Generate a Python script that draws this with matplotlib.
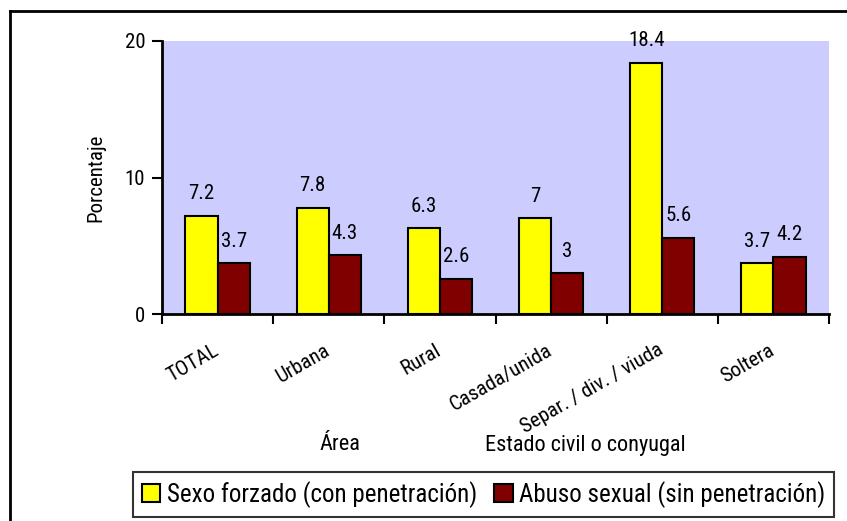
import matplotlib
matplotlib.use("Agg")
import matplotlib.pyplot as plt
from matplotlib.patches import Patch
from matplotlib.lines import Line2D
from matplotlib.transforms import ScaledTranslation
import numpy as np

categories = ["TOTAL", "Urbana", "Rural", "Casada/unida", "Separ. / div. / viuda", "Soltera"]
sexo_forzado = [7.2, 7.8, 6.3, 7.0, 18.4, 3.7]
abuso_sexual = [3.7, 4.3, 2.6, 3.0, 5.6, 4.2]
value_labels_1 = ["7.2", "7.8", "6.3", "7", "18.4", "3.7"]
value_labels_2 = ["3.7", "4.3", "2.6", "3", "5.6", "4.2"]
series_names = ["Sexo forzado (con penetración)", "Abuso sexual (sin penetración)"]
yticks = [0, 10, 20]

FONT = ["Roboto Condensed", "Liberation Sans Narrow", "DejaVu Sans"]
plt.rcParams["font.family"] = FONT

W, H = 847, 521
fig = plt.figure(figsize=(W / 100, H / 100), dpi=100)
ax = fig.add_axes([162 / W, 1 - 314 / H, (829 - 162) / W, (314 - 41) / H])
ax.set_facecolor("#CCCCFF")

x = np.arange(len(categories))
bw = 0.29
b1 = ax.bar(x - bw / 2, sexo_forzado, bw, color="#FFFF00", edgecolor="black", linewidth=1.5, zorder=3)
b2 = ax.bar(x + bw / 2, abuso_sexual, bw, color="#800000", edgecolor="black", linewidth=1.5, zorder=3)

for rect, lab in zip(b1, value_labels_1):
    ax.annotate(lab, (rect.get_x() + rect.get_width() / 2, rect.get_height()),
                xytext=(0, 9), textcoords="offset points", ha="center", va="bottom",
                fontsize=15)
for rect, lab in zip(b2, value_labels_2):
    ax.annotate(lab, (rect.get_x() + rect.get_width() / 2, rect.get_height()),
                xytext=(0, 9), textcoords="offset points", ha="center", va="bottom",
                fontsize=15)

ax.set_xlim(-0.5, len(categories) - 0.5)
ax.set_ylim(0, 20)
ax.set_yticks(yticks)
ax.tick_params(axis="y", labelsize=15, length=7, width=1.5, direction="out", pad=5)

ax.set_xticks(x)
ax.set_xticklabels(categories, rotation=30, ha="right", rotation_mode="anchor", fontsize=15)
ax.tick_params(axis="x", which="major", length=0, pad=19)
shift = ScaledTranslation(-5 / 100, 0, fig.dpi_scale_trans)
for t in ax.get_xticklabels():
    t.set_transform(t.get_transform() + shift)
ax.set_xticks(np.arange(len(categories) + 1) - 0.5, minor=True)
ax.tick_params(axis="x", which="minor", length=7, width=1.5, direction="out")

for s in ["top", "right"]:
    ax.spines[s].set_visible(False)
for s in ["left", "bottom"]:
    ax.spines[s].set_linewidth(2)

ax.set_ylabel("Porcentaje", fontsize=15, labelpad=14)

fig.text(340 / W, 1 - 445 / H, "Área", fontsize=16, ha="center", va="center")
fig.text(585 / W, 1 - 445 / H, "Estado civil o conyugal", fontsize=16,
         ha="center", va="center")

handles = [Patch(facecolor="#FFFF00", edgecolor="black", linewidth=1.5),
           Patch(facecolor="#800000", edgecolor="black", linewidth=1.5)]
leg = fig.legend(handles, series_names, loc="center", bbox_to_anchor=(483.5 / W, 1 - 494.5 / H),
                 ncol=2, frameon=True, fancybox=False, handlelength=0.75,
                 handleheight=0.75, handletextpad=0.25, columnspacing=0.7, borderpad=0.35,
                 borderaxespad=0, prop={"size": 18})
leg.get_frame().set_edgecolor("black")
leg.get_frame().set_linewidth(1.5)

# outer border (top and left edges visible)
fig.add_artist(Line2D([10 / W, 10 / W], [0, 1 - 11 / H], transform=fig.transFigure, color="black", linewidth=2))
fig.add_artist(Line2D([10 / W, 1], [1 - 11 / H, 1 - 11 / H], transform=fig.transFigure, color="black", linewidth=2))

fig.savefig("out.png", dpi=100)
